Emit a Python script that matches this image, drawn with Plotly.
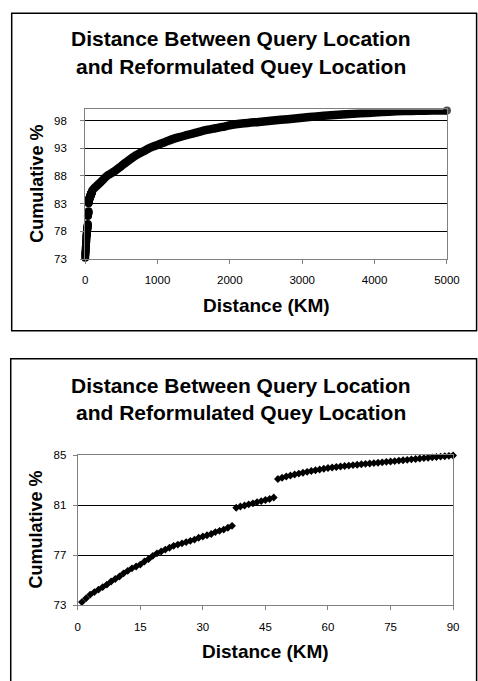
import plotly.graph_objects as go

W, H = 478, 681

# ---- Data ----
# Detailed view (0-90 km), one point per km
near_km = list(range(1, 91))
near_pct = [
    73.25, 73.55, 73.85, 74.05, 74.25, 74.45, 74.65, 74.9, 75.1, 75.3,
    75.55, 75.75, 75.95, 76.1, 76.25, 76.5, 76.7, 76.95, 77.15, 77.3,
    77.45, 77.6, 77.75, 77.85, 77.95, 78.05, 78.15, 78.25, 78.4, 78.5,
    78.6, 78.7, 78.85, 78.95, 79.05, 79.2, 79.35,
    80.8, 80.9, 80.98, 81.07, 81.15, 81.25, 81.33, 81.42, 81.5, 81.62,
    83.1, 83.2, 83.3, 83.38, 83.46, 83.53, 83.6, 83.67, 83.74, 83.8,
    83.86, 83.92, 83.98, 84.02, 84.06, 84.1, 84.14, 84.17, 84.21, 84.24,
    84.28, 84.31, 84.34, 84.37, 84.4, 84.43, 84.47, 84.5, 84.53, 84.57,
    84.6, 84.63, 84.67, 84.7, 84.74, 84.77, 84.8, 84.83, 84.86, 84.89,
    84.92, 84.95, 84.98,
]
# Full view beyond 90 km
far_km = [90, 100, 150, 200, 300, 400, 500, 600, 700, 800, 900, 1000, 1100, 1200,
          1300, 1400, 1500, 1600, 1700, 1800, 1900, 2000, 2200, 2400, 2600, 2800,
          3000, 3200, 3400, 3600, 3800, 4000, 4200, 4400, 4600, 4800, 5000]
far_pct = [84.98, 85.4, 86.1, 86.7, 88.0, 88.8, 89.8, 90.8, 91.7, 92.4, 93.1, 93.6,
           94.1, 94.6, 95.0, 95.35, 95.7, 96.05, 96.35, 96.6, 96.85, 97.15, 97.5,
           97.75, 98.0, 98.25, 98.5, 98.75, 98.95, 99.15, 99.3, 99.45, 99.6, 99.7,
           99.76, 99.8, 99.82]

top_xticks = [0, 1000, 2000, 3000, 4000, 5000]
top_yticks = [73, 78, 83, 88, 93, 98]
bot_xticks = [0, 15, 30, 45, 60, 75, 90]
bot_yticks = [73, 77, 81, 85]

title_l1 = "Distance Between Query Location"
title_l2 = "and Reformulated Quey Location"
xtitle = "Distance (KM)"
ytitle = "Cumulative %"

FONT = "Arial, 'Liberation Sans', sans-serif"


def px(x):
    return x / W


def py(y):
    return 1 - y / H


fig = go.Figure()

# Top chart
fig.add_trace(go.Scatter(x=near_km, y=near_pct, mode="markers", xaxis="x", yaxis="y",
                         marker=dict(symbol="circle", size=8, color="black"),
                         cliponaxis=False, showlegend=False))
end_sizes = [8] + [0] * (len(far_km) - 2) + [8]
fig.add_trace(go.Scatter(x=far_km, y=far_pct, mode="lines+markers", xaxis="x", yaxis="y",
                         line=dict(color="black", width=8.5, shape="spline", smoothing=0.6),
                         marker=dict(symbol="circle", size=end_sizes, color="black",
                                     line=dict(width=0)),
                         cliponaxis=False, showlegend=False))
# Bottom chart
fig.add_trace(go.Scatter(x=near_km, y=near_pct, mode="markers", xaxis="x2", yaxis="y2",
                         marker=dict(symbol="diamond", size=6, color="black"),
                         cliponaxis=False, showlegend=False))

axis_common = dict(showline=True, linecolor="#808080", linewidth=1, mirror=True,
                   ticks="outside", ticklen=4, tickcolor="#808080",
                   tickfont=dict(family=FONT, size=11.5, color="black"),
                   zeroline=False, fixedrange=True)

fig.update_layout(
    width=W, height=H,
    margin=dict(l=0, r=0, t=0, b=0),
    paper_bgcolor="white", plot_bgcolor="white",
    showlegend=False,
    xaxis=dict(domain=[px(85), px(459.3)], range=[0, 5000], tickvals=top_xticks,
               showgrid=False, anchor="y", ticklabelstandoff=6, **axis_common),
    yaxis=dict(domain=[py(257.7), py(105.3)], range=[73, 100], tickvals=top_yticks,
               showgrid=True, gridcolor="black", gridwidth=1, anchor="x",
               ticklabelstandoff=11, **axis_common),
    xaxis2=dict(domain=[px(77.3), px(465.7)], range=[0, 90], tickvals=bot_xticks,
                showgrid=False, anchor="y2", ticklabelstandoff=7, **axis_common),
    yaxis2=dict(domain=[py(610), py(457.3)], range=[73, 85], tickvals=bot_yticks,
                showgrid=True, gridcolor="black", gridwidth=1, anchor="x2",
                ticklabelstandoff=4, **axis_common),
)

# Chart area borders
fig.add_shape(type="rect", xref="paper", yref="paper",
              x0=px(9), x1=px(490), y0=py(330.7), y1=py(7.3),
              line=dict(color="black", width=1.5), fillcolor="rgba(0,0,0,0)", layer="below")
fig.add_shape(type="rect", xref="paper", yref="paper",
              x0=px(8), x1=px(490), y0=py(700), y1=py(359),
              line=dict(color="black", width=1.5), fillcolor="rgba(0,0,0,0)", layer="below")

ann = []
tfont = dict(family=FONT, size=21, color="black")
afont = dict(family=FONT, size=19, color="black")
yfont = dict(family=FONT, size=18, color="black")
for (cx, y1, y2) in [(246, 33, 62), (246, 386.7, 414)]:
    ann.append(dict(text="<b>%s</b>" % title_l1, x=px(cx), y=py(y1), xref="paper", yref="paper",
                    xanchor="center", yanchor="middle", showarrow=False, font=tfont))
    ann.append(dict(text="<b>%s</b>" % title_l2, x=px(cx), y=py(y2), xref="paper", yref="paper",
                    xanchor="center", yanchor="middle", showarrow=False, font=tfont))
ann.append(dict(text="<b>%s</b>" % xtitle, x=px(272.5), y=py(305), xref="paper", yref="paper",
                xanchor="center", yanchor="middle", showarrow=False, font=afont))
ann.append(dict(text="<b>%s</b>" % xtitle, x=px(271.5), y=py(657), xref="paper", yref="paper",
                xanchor="center", yanchor="middle", showarrow=False, font=afont))
ann.append(dict(text="<b>%s</b>" % ytitle, x=px(35.5), y=py(180.5), xref="paper", yref="paper",
                xanchor="center", yanchor="middle", showarrow=False, font=yfont, textangle=-90))
ann.append(dict(text="<b>%s</b>" % ytitle, x=px(34.5), y=py(532.5), xref="paper", yref="paper",
                xanchor="center", yanchor="middle", showarrow=False, font=yfont, textangle=-90))
fig.update_layout(annotations=ann)

fig.write_html("out.html", config={"displayModeBar": False})
